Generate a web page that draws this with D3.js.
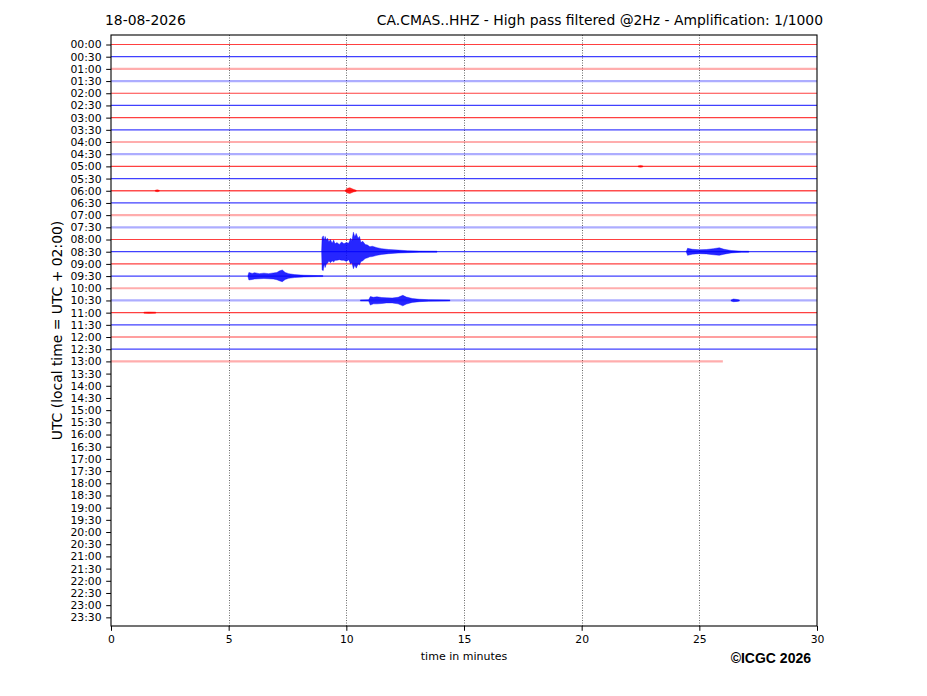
<!DOCTYPE html>
<html>
<head>
<meta charset="utf-8">
<script src="https://cdn.jsdelivr.net/npm/d3@7"></script>
<style>
body { margin: 0; background: #fff; }
text { font-family: "DejaVu Sans", sans-serif; fill: #000; }
</style>
</head>
<body>
<script>
// helicorder rows, one every 30 min
let rowLabels = ["00:00","00:30","01:00","01:30","02:00","02:30","03:00","03:30",
	"04:00","04:30","05:00","05:30","06:00","06:30","07:00","07:30",
	"08:00","08:30","09:00","09:30","10:00","10:30","11:00","11:30",
	"12:00","12:30","13:00","13:30","14:00","14:30","15:00","15:30",
	"16:00","16:30","17:00","17:30","18:00","18:30","19:00","19:30",
	"20:00","20:30","21:00","21:30","22:00","22:30","23:00","23:30"];
let xTicks = [0, 5, 10, 15, 20, 25, 30];

// background noise per recorded row (row units), noisy rows show up faded
let rowNoise = [0.03,0.03,0.12,0.12,0.03,0.03,0.03,0.03,0.12,0.12,
	0.03,0.03,0.04,0.03,0.12,0.12,0.03,0.03,0.03,0.03,
	0.12,0.12,0.03,0.03,0.03,0.03,0.12];
let lastRowEnd = 26.0;  // minutes recorded in the last row

// event envelopes: [minute, up, down] in row units
let ev0830a = [[8.95,0,0],[8.97,1.15,1.5],[9.02,1.3,1.55],[9.06,0.9,1.0],[9.1,1.25,1.3],
	[9.15,0.95,1.0],[9.2,1.1,0.95],[9.26,0.8,0.75],[9.32,1.0,0.9],[9.4,0.7,0.75],
	[9.46,0.95,0.85],[9.52,0.65,0.7],[9.6,0.75,0.7],[9.7,0.6,0.65],[9.8,0.8,0.7],
	[9.9,0.65,0.7],[10.0,0.75,0.8],[10.1,0.7,0.65],[10.18,1.1,1.0],[10.24,0.9,0.9],
	[10.3,1.6,1.4],[10.36,1.2,1.1],[10.42,1.5,1.35],[10.5,1.1,1.0],[10.56,1.25,1.1],
	[10.62,0.75,0.8],[10.7,0.85,0.75],[10.8,0.6,0.55],[10.9,0.55,0.5],[11.0,0.4,0.42],
	[11.1,0.45,0.4],[11.3,0.33,0.3],[11.5,0.25,0.22],[11.8,0.18,0.16],[12.2,0.13,0.11],
	[12.6,0.08,0.08],[13.1,0.05,0.05],[13.85,0.03,0.03]];
let ev0930 = [[5.82,0,0],[5.86,0.3,0.32],[6.0,0.22,0.28],[6.1,0.28,0.24],[6.3,0.2,0.22],
	[6.5,0.24,0.2],[6.7,0.2,0.22],[6.9,0.26,0.24],[7.05,0.3,0.3],[7.15,0.42,0.38],
	[7.28,0.5,0.46],[7.4,0.3,0.28],[7.55,0.2,0.18],[7.8,0.12,0.12],[8.2,0.07,0.07],
	[8.8,0.04,0.04],[9.0,0.03,0.03]];
let ev1030a = [[10.6,0.03,0.03],[10.95,0.05,0.05],[11.02,0.32,0.38],[11.15,0.26,0.28],
	[11.3,0.3,0.28],[11.5,0.24,0.25],[11.7,0.22,0.2],[11.95,0.2,0.2],[12.2,0.26,0.28],
	[12.4,0.42,0.44],[12.55,0.28,0.3],[12.8,0.16,0.16],[13.1,0.1,0.1],[13.5,0.06,0.06],
	[14.4,0.03,0.03]];
let ev0830b = [[24.45,0,0],[24.5,0.28,0.3],[24.7,0.2,0.2],[25.0,0.16,0.16],[25.3,0.18,0.18],
	[25.6,0.25,0.25],[25.85,0.32,0.3],[26.05,0.2,0.2],[26.35,0.1,0.1],[26.8,0.04,0.04],
	[27.1,0.03,0.03]];
let ev1030b = [[26.35,0,0],[26.45,0.12,0.1],[26.6,0.08,0.08],[26.7,0.03,0.03]];
let ev0600a = [[9.95,0,0],[10.05,0.2,0.18],[10.15,0.25,0.22],[10.3,0.12,0.1],[10.42,0.04,0.04]];
let ev0600b = [[1.88,0,0],[1.96,0.08,0.08],[2.05,0.03,0.03]];
let ev1100 = [[1.4,0,0],[1.6,0.06,0.06],[1.9,0.03,0.03]];
let ev0500 = [[22.4,0,0],[22.5,0.08,0.08],[22.6,0.03,0.03]];

let events = [
	{row: 17, env: ev0830a}, {row: 19, env: ev0930}, {row: 21, env: ev1030a},
	{row: 17, env: ev0830b}, {row: 21, env: ev1030b}, {row: 12, env: ev0600a},
	{row: 12, env: ev0600b}, {row: 22, env: ev1100}, {row: 10, env: ev0500}
];

let W = 927, H = 696;
let plot = {left: 111, right: 817, top: 35, bottom: 626};

let x = d3.scaleLinear().domain([0, 30]).range([plot.left, plot.right]);
let y = d3.scaleLinear().domain([-0.78, 47.71]).range([plot.top, plot.bottom]);
let rowPx = y(1) - y(0);
let color = i => i % 2 == 0 ? "#ff0000" : "#0000ff";

let svg = d3.select("body").append("svg")
	.attr("width", W)
	.attr("height", H);

// vertical dotted grid
svg.append("g").selectAll("line")
	.data(xTicks.slice(1, -1))
	.enter().append("line")
	.attr("x1", d => Math.round(x(d)) + 0.5).attr("x2", d => Math.round(x(d)) + 0.5)
	.attr("y1", plot.top).attr("y2", plot.bottom)
	.attr("stroke", "#444")
	.attr("stroke-width", 0.8)
	.attr("stroke-dasharray", "1,1.5");

// traces
let traces = svg.append("g");
let noiseW = d3.scaleLinear().domain([0.03, 0.12]).range([1.2, 2.2]);
let noiseA = d3.scaleLinear().domain([0.03, 0.12]).range([0.75, 0.32]);
traces.selectAll("line")
	.data(rowNoise)
	.enter().append("line")
	.attr("x1", x(0))
	.attr("x2", (d, i) => i == rowNoise.length - 1 ? x(lastRowEnd) : x(30))
	.attr("y1", (d, i) => y(i)).attr("y2", (d, i) => y(i))
	.attr("stroke", (d, i) => color(i))
	.attr("stroke-width", d => noiseW(d))
	.attr("stroke-opacity", d => noiseA(d));

events.forEach(function(ev) {
	let area = d3.area()
		.x(d => x(d[0]))
		.y0(d => y(ev.row) + Math.max(d[2] * rowPx, 0.5))
		.y1(d => y(ev.row) - Math.max(d[1] * rowPx, 0.5));
	traces.append("path")
		.datum(ev.env)
		.attr("d", area)
		.attr("fill", color(ev.row))
		.attr("fill-opacity", 0.85)
		.attr("stroke", color(ev.row))
		.attr("stroke-width", 0.4);
});

// frame
svg.append("rect")
	.attr("x", plot.left).attr("y", plot.top)
	.attr("width", plot.right - plot.left)
	.attr("height", plot.bottom - plot.top)
	.attr("fill", "none")
	.attr("stroke", "#000")
	.attr("stroke-width", 1.1);

// axes
let yAxis = d3.axisLeft(y)
	.tickValues(d3.range(rowLabels.length))
	.tickFormat(i => rowLabels[i])
	.tickSize(4.8).tickPadding(4.6);
let gy = svg.append("g")
	.attr("transform", "translate(" + plot.left + ",0)")
	.call(yAxis);
gy.select(".domain").remove();
gy.selectAll("text").style("font-size", "10.8px").style("font-family", "DejaVu Sans");

let xAxis = d3.axisBottom(x)
	.tickValues(xTicks)
	.tickSize(4.8).tickPadding(4.2);
let gx = svg.append("g")
	.attr("transform", "translate(0," + plot.bottom + ")")
	.call(xAxis);
gx.select(".domain").remove();
gx.selectAll("text").style("font-size", "10.8px").style("font-family", "DejaVu Sans");

// labels
svg.append("text")
	.attr("x", (plot.left + plot.right) / 2).attr("y", 660)
	.attr("text-anchor", "middle")
	.style("font-size", "11px")
	.text("time in minutes");

svg.append("text")
	.attr("transform", "translate(62," + (plot.top + plot.bottom) / 2 + ") rotate(-90)")
	.attr("text-anchor", "middle")
	.style("font-size", "13.9px")
	.text("UTC (local time = UTC + 02:00)");

svg.append("text")
	.attr("x", 105).attr("y", 25)
	.style("font-size", "13.9px")
	.text("18-08-2026");

svg.append("text")
	.attr("x", 823).attr("y", 25)
	.attr("text-anchor", "end")
	.style("font-size", "13.9px")
	.text("CA.CMAS..HHZ - High pass filtered @2Hz - Amplification: 1/1000");

svg.append("text")
	.attr("x", 811).attr("y", 663)
	.attr("text-anchor", "end")
	.style("font-family", "Liberation Sans, Arial, sans-serif")
	.style("font-weight", "bold")
	.style("font-size", "14px")
	.text("\u00a9ICGC 2026");
</script>
</body>
</html>
